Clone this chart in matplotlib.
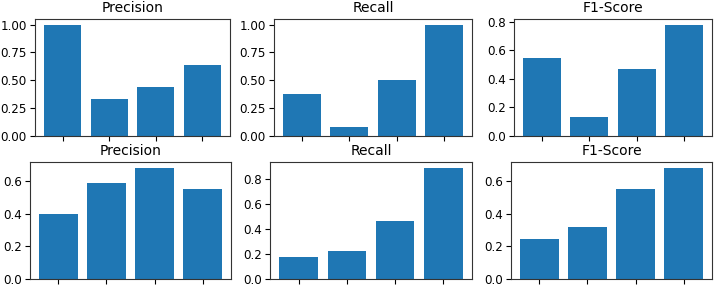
import matplotlib
matplotlib.use("Agg")
import matplotlib.pyplot as plt
import numpy as np

# valores (4 classes por painel)
titulos = ["Precision", "Recall", "F1-Score"]
classes = [0, 1, 2, 3]

precision_1 = [1.00, 0.333, 0.44, 0.64]
recall_1 = [0.375, 0.083, 0.50, 1.00]
f1_1 = [0.545, 0.136, 0.47, 0.78]

precision_2 = [0.40, 0.584, 0.681, 0.549]
recall_2 = [0.172, 0.22, 0.461, 0.888]
f1_2 = [0.244, 0.32, 0.549, 0.681]

linhas = [[precision_1, recall_1, f1_1],
          [precision_2, recall_2, f1_2]]

# ticks do eixo y de cada painel
ticks_1 = [[0, 0.25, 0.5, 0.75, 1.0], [0, 0.25, 0.5, 0.75, 1.0], [0, 0.2, 0.4, 0.6, 0.8]]
ticks_2 = [[0, 0.2, 0.4, 0.6], [0, 0.2, 0.4, 0.6, 0.8], [0, 0.2, 0.4, 0.6]]
ticks = [ticks_1, ticks_2]

W, H = 718, 285
fig = plt.figure(figsize=(W / 100, H / 100), dpi=100)

# posicoes dos eixos em pixels: (esq, dir) por coluna, (topo, base) por linha
cols_px = [[(35, 230), (274, 472), (514, 712)],
           [(30, 231), (270, 472), (511, 712)]]
rows_px = [(19, 136), (162, 279)]

for i, linha in enumerate(linhas):
    topo, base = rows_px[i]
    for j, valores in enumerate(linha):
        esq, dir_ = cols_px[i][j]
        ax = fig.add_axes([esq / W, (H - base) / H, (dir_ - esq) / W, (base - topo) / H])
        ax.bar(classes, valores, color='#1f77b4')
        ax.set_xticks(classes)
        ax.set_xticklabels([])
        ax.set_yticks(ticks[i][j])
        ax.set_title(titulos[j], fontsize=10, pad=5)
        ax.tick_params(axis='y', labelsize=8.6, length=3.5, pad=2.5)
        ax.tick_params(axis='x', length=3.5)
        for s in ax.spines.values():
            s.set_color('#333333')

plt.savefig('out.png', dpi=100)
